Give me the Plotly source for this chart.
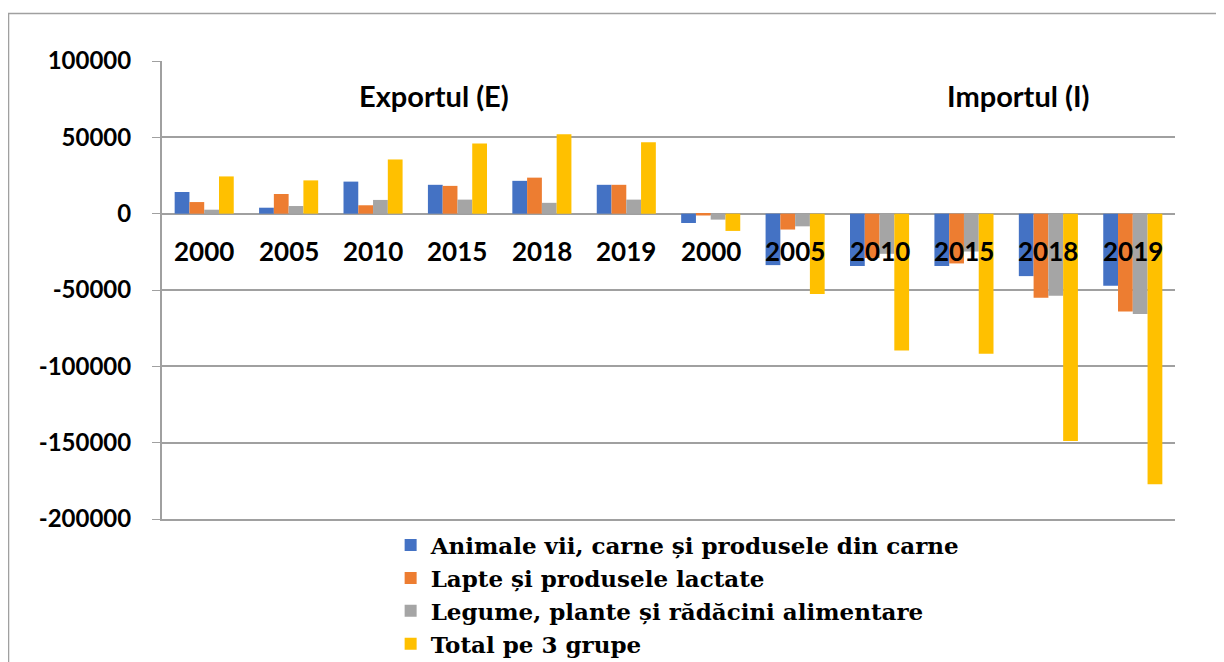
import plotly.graph_objects as go

years = ["2000", "2005", "2010", "2015", "2018", "2019"]
groups = ["Exportul (E)", "Importul (I)"]
series_names = [
    "Animale vii, carne și produsele din carne",
    "Lapte și produsele lactate",
    "Legume, plante și rădăcini alimentare",
    "Total pe 3 grupe",
]
colors = ["#4472C4", "#ED7D31", "#A5A5A5", "#FFC000"]

# Export values (E)
exp_animale = [14200, 3900, 21000, 18900, 21500, 18900]
exp_lapte = [7600, 12900, 5500, 18200, 23600, 18900]
exp_legume = [2600, 5000, 9000, 9200, 7100, 9200]
exp_total = [24400, 21800, 35500, 46000, 52000, 46800]

# Import values (I)
imp_animale = [-6100, -33700, -34300, -34300, -40900, -47200]
imp_lapte = [-1200, -10400, -29000, -32600, -55000, -64100]
imp_legume = [-3900, -8300, -26300, -24800, -53700, -65700]
imp_total = [-11300, -52600, -89600, -91700, -148900, -177200]

y_ticks = [100000, 50000, 0, -50000, -100000, -150000, -200000]

export_series = [exp_animale, exp_lapte, exp_legume, exp_total]
import_series = [imp_animale, imp_lapte, imp_legume, imp_total]

labels = years + years
xpos = list(range(len(labels)))

fig = go.Figure()
for name, color, e, i in zip(series_names, colors, export_series, import_series):
    fig.add_trace(go.Bar(
        x=xpos, y=e + i, name=name,
        marker=dict(color=color, line=dict(width=0)),
    ))

bold_sans = dict(family="Lato", size=26, color="black", weight="bold")
annotations = []
for xp, lab in zip(xpos, labels):
    annotations.append(dict(
        x=xp, y=-24400, xref="x", yref="y", text=lab, showarrow=False,
        font=bold_sans,
    ))
title_font = dict(family="Lato", size=29, color="black", weight="bold")
annotations.append(dict(x=2.72, y=77100, xref="x", yref="y", text=groups[0],
                        showarrow=False, font=title_font))
annotations.append(dict(x=9.65, y=77100, xref="x", yref="y", text=groups[1],
                        showarrow=False, font=title_font))

fig.update_layout(
    width=1224, height=662,
    margin=dict(l=154, r=57, t=53, b=151, autoexpand=False),
    paper_bgcolor="white", plot_bgcolor="white",
    barmode="group", bargap=0.3, bargroupgap=0,
    showlegend=True,
    legend=dict(
        x=0.2257, y=-0.01, xanchor="left", yanchor="top",
        orientation="v",
        font=dict(family="DejaVu Serif", size=23, color="black", weight="bold"),
        bgcolor="rgba(0,0,0,0)",
    ),
    annotations=annotations,
    shapes=[dict(type="rect", xref="paper", yref="paper",
                 x0=-0.1515, x1=1.06, y0=-0.6, y1=1.1038,
                 line=dict(color="#A0A0A0", width=1.5), layer="above")],
    xaxis=dict(
        range=[-0.5, 11.5], showticklabels=False, showgrid=False,
        zeroline=False, showline=True, linecolor="#A0A0A0", linewidth=2,
        ticks="", automargin=False,
    ),
    yaxis=dict(
        range=[-200000, 100000], tickvals=y_ticks,
        ticktext=[str(v) for v in y_ticks],
        showgrid=True, gridcolor="#A0A0A0", gridwidth=2,
        zeroline=True, zerolinecolor="#A0A0A0", zerolinewidth=2,
        showline=True, linecolor="#A0A0A0", linewidth=2,
        ticks="outside", ticklen=8, tickcolor="#A0A0A0", tickwidth=1,
        ticklabelstandoff=16, automargin=False,
        tickfont=dict(family="Lato", size=24, color="black", weight="bold"),
    ),
)

fig.write_html("out.html")
